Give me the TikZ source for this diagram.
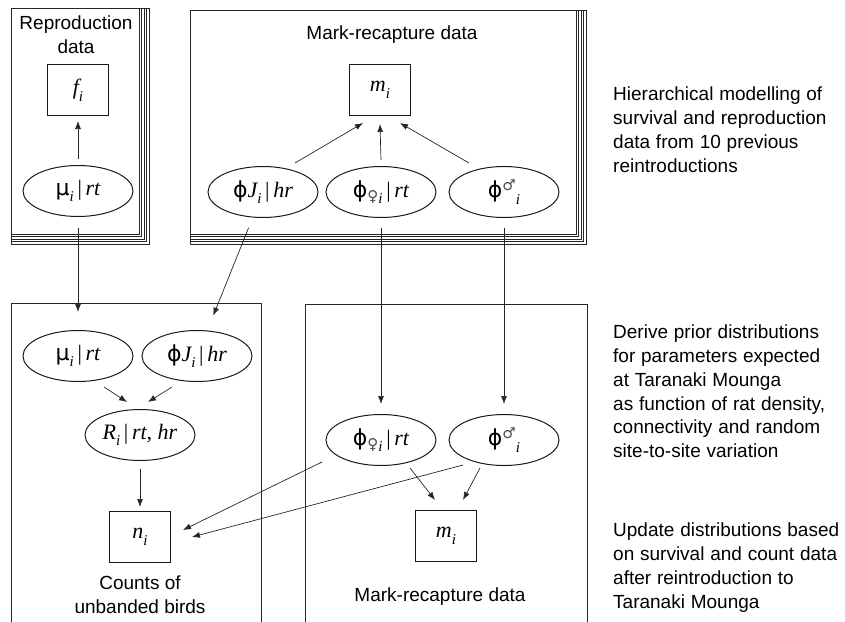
\documentclass[tikz,border=0pt]{standalone}
\usepackage{fontspec}
\setmainfont{Liberation Sans}
\newfontfamily\tmsfont{Liberation Serif}
\newfontfamily\dvsfont{DejaVu Sans}
\usetikzlibrary{shapes.geometric,arrows.meta,calc}

% italic variable, subscript, Greek letters and sex symbols
\newcommand{\vi}[1]{{\tmsfont\itshape #1}}
\newcommand{\sbs}[1]{\raisebox{-0.3em}{\fontsize{15}{15}\selectfont\tmsfont\itshape #1}}
\newcommand{\gmu}{{\dvsfont μ}}
\newcommand{\gphi}{{\dvsfont ϕ}}
\newcommand{\barsep}{{\tmsfont\,|\,}}
\newcommand{\fem}{\raisebox{-0.2em}{\fontsize{15}{15}\selectfont\dvsfont\color{black!70}♀}}
\newcommand{\mal}{\raisebox{0.3em}{\fontsize{15}{15}\selectfont\dvsfont\color{black!70}♂}}
% font of the side notes, with slightly wider word spaces
\newcommand{\notefont}{\fontsize{19}{23.7}\selectfont\spaceskip=5.8pt plus 1pt\relax}

\begin{document}
\begin{tikzpicture}[x=1pt,y=-1pt,
  every node/.style={inner sep=0pt},
  plate/.style={draw=black!85, line width=0.9pt},
  var/.style={ellipse, draw=black!90, line width=1pt, minimum width=110pt, minimum height=51pt,
    font=\fontsize{22}{26}\selectfont},
  obs/.style={rectangle, draw=black!90, line width=1pt, minimum width=61pt, minimum height=51pt,
    font=\fontsize{22}{26}\selectfont},
  arr/.style={-{Latex[length=8pt,width=6pt]}, line width=0.7pt, draw=black!85},
  lbl/.style={align=center, font=\fontsize{19}{24}\selectfont},
  note/.style={align=left, anchor=north west, font=\notefont}
]
\useasboundingbox (0,0) rectangle (845,621);

% stacked plates (repeated data sets)
\foreach \k in {0,2.6,5.2,7.8,10.4}{
  \draw[plate] (11,8) rectangle ({139+\k},{234+\k});
  \draw[plate] (190,10) rectangle ({576+\k},{234+\k});
}
% single plates, open at the bottom edge
\draw[plate] (11,623) -- (11,303) -- (261,303) -- (261,623);
\draw[plate] (305,623) -- (305,304) -- (587,304) -- (587,623);

% plate titles
\node[lbl] (repT) at (76,35) {Reproduction\\data};
\node[lbl] (mrT) at (392,35) {Mark-recapture data};
\node[lbl] (cnt) at (140,595) {Counts of\\unbanded birds};
\node[lbl] (mrB) at (440,597) {Mark-recapture data};

% top level
\node[obs] (f) at (78,90) {\vi{f}\sbs{i}};
\node[var] (muT) at (78,191) {\gmu\sbs{i}\barsep\vi{rt}};
\node[obs] (mT) at (380,90) {\vi{m}\sbs{i}};
\node[var] (phiJT) at (263,192) {\gphi\vi{J}\sbs{i}\barsep\vi{hr}};
\node[var] (phiFT) at (381,192) {\gphi\fem\sbs{i}\barsep\vi{rt}};
\node[var] (phiMT) at (504,192) {\gphi\mal\sbs{i}};

% lower left
\node[var] (muL) at (78,356) {\gmu\sbs{i}\barsep\vi{rt}};
\node[var] (phiJL) at (197,356) {\gphi\vi{J}\sbs{i}\barsep\vi{hr}};
\node[var] (R) at (140,435) {\vi{R}\sbs{i}\barsep\vi{rt, hr}};
\node[obs] (n) at (140,537) {\vi{n}\sbs{i}};

% lower right
\node[var] (phiFR) at (381,440) {\gphi\fem\sbs{i}\barsep\vi{rt}};
\node[var] (phiMR) at (504,440) {\gphi\mal\sbs{i}};
\node[obs] (mB) at (446,536) {\vi{m}\sbs{i}};

% explanatory notes
\node[note] (t1) at (613,87) {Hierarchical modelling of\\survival and reproduction\\data from 10 previous\\reintroductions};
\node[note] (t2) at (613,325) {Derive prior distributions\\for parameters expected\\at Taranaki Mounga\\as function of rat density,\\connectivity and random\\site-to-site variation};
\node[note] (t3) at (613,523) {Update distributions based\\on survival and count data\\after reintroduction to\\Taranaki Mounga};

% connectors
\draw[arr] ($(muT.north)+(0,-6)$) -- ($(f.south)+(0,5)$);
\draw[arr, shorten <=11pt, shorten >=18pt] (muT) -- (muL);
\draw[arr, shorten <=11pt, shorten >=16pt] (phiJT) -- (phiJL);
\draw[arr, shorten <=10pt, shorten >=10pt] (phiFT) -- (phiFR);
\draw[arr, shorten <=10pt, shorten >=10pt] (phiMT) -- (phiMR);

\draw[arr] ($(phiJT)+(32,-29)$) -- ($(mT)+(-17,33)$);
\draw[arr] ($(phiFT.north)+(0,-6)$) -- ($(mT.south)+(0,8)$);
\draw[arr] ($(phiMT)+(-35,-29)$) -- ($(mT)+(20,33)$);

\draw[arr] ($(muL)+(26,31)$) -- ($(R)+(-13,-33)$);
\draw[arr] ($(phiJL)+(-25,31)$) -- ($(R)+(8,-33)$);
\draw[arr] ($(R.south)+(0,8)$) -- ($(n.north)+(0,-4)$);

\draw[arr] ($(phiFR)+(29,28)$) -- ($(mB)+(-11,-36)$);
\draw[arr] ($(phiMR)+(-24,28)$) -- ($(mB)+(17,-36)$);
\draw[arr] ($(phiFR)+(-59,22)$) -- ($(n)+(43,-7)$);
\draw[arr] ($(phiMR)+(-41,25)$) -- ($(n)+(52,0)$);
\end{tikzpicture}
\end{document}
